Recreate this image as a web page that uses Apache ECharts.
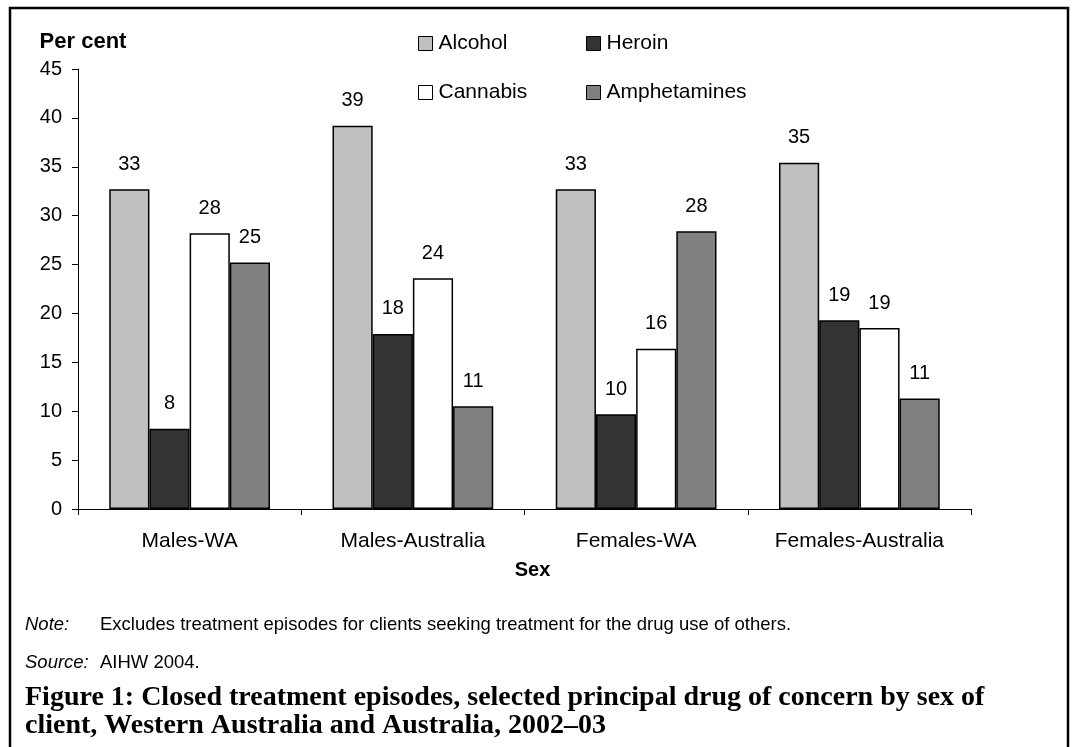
<!DOCTYPE html>
<html>
<head>
<meta charset="utf-8">
<title>Closed treatment episodes</title>
<script src="https://cdn.jsdelivr.net/npm/echarts@6/dist/echarts.min.js"></script>
<style>
  html, body { margin: 0; padding: 0; background: #fff; }
  #chart { width: 1077px; height: 747px; }
</style>
</head>
<body>
<div id="chart"></div>
<script>
// categories along the x axis
const categories = ['Males-WA', 'Males-Australia', 'Females-WA', 'Females-Australia']

// per cent of closed treatment episodes
const alcohol = [32.7, 39.2, 32.7, 35.4]
const heroin = [8.2, 17.9, 9.7, 19.3]
const cannabis = [28.2, 23.6, 16.4, 18.5]
const amphetamines = [25.2, 10.5, 28.4, 11.3]

const drugNames = ['Alcohol', 'Heroin', 'Cannabis', 'Amphetamines']
const yTicks = [0, 5, 10, 15, 20, 25, 30, 35, 40, 45]

const noteText = 'Excludes treatment episodes for clients seeking treatment for the drug use of others.'
const sourceText = 'AIHW 2004.'
const captionLines = [
  'Figure 1: Closed treatment episodes, selected principal drug of concern by sex of',
  'client, Western Australia and Australia, 2002\u201303'
]

const font = 'Liberation Sans, Arial, sans-serif'
const serif = 'Liberation Serif, Times New Roman, serif'

const colors = ['#c0c0c0', '#333333', '#ffffff', '#808080']
const values = [alcohol, heroin, cannabis, amphetamines]

// legend laid out as 2 x 2, one legend per entry
const legendPos = [
  { left: 418, top: 33 },
  { left: 586, top: 33 },
  { left: 418, top: 82 },
  { left: 586, top: 82 }
]

const chart = echarts.init(document.getElementById('chart'), null, { renderer: 'canvas' })

const series = drugNames.map(function (name, i) {
  return {
    name: name,
    type: 'bar',
    data: values[i],
    barGap: '0%',
    barCategoryGap: '28%',
    itemStyle: { color: colors[i], borderColor: '#000', borderWidth: 1.5 },
    label: {
      show: true,
      position: 'top',
      distance: 15,
      color: '#000',
      fontFamily: font,
      fontSize: 20,
      formatter: function (p) { return Math.round(p.value) }
    },
    emphasis: { disabled: true }
  }
})

const legends = drugNames.map(function (name, i) {
  return {
    data: [name],
    left: legendPos[i].left,
    top: legendPos[i].top,
    icon: 'rect',
    itemWidth: 14,
    itemHeight: 14,
    itemGap: 0,
    padding: 0,
    selectedMode: false,
    itemStyle: { borderColor: '#000', borderWidth: 1 },
    textStyle: { fontFamily: font, fontSize: 21, color: '#000', padding: [0, 0, 0, 1] }
  }
})

const option = {
  backgroundColor: '#fff',
  animation: false,
  legend: legends,
  grid: { left: 78, right: 106, top: 69, bottom: 238, containLabel: false },
  xAxis: {
    type: 'category',
    data: categories,
    axisLine: { lineStyle: { color: '#000', width: 1 } },
    axisTick: { show: true, length: 6, lineStyle: { color: '#000' } },
    axisLabel: { color: '#000', fontFamily: font, fontSize: 21, margin: 22 },
    name: 'Sex',
    nameLocation: 'middle',
    nameGap: 51,
    nameTextStyle: { color: '#000', fontFamily: font, fontSize: 20, fontWeight: 'bold', padding: [0, 0, 0, 16] }
  },
  yAxis: {
    type: 'value',
    min: 0,
    max: 45,
    interval: 5,
    splitLine: { show: false },
    axisLine: { show: true, lineStyle: { color: '#000', width: 1 } },
    axisTick: { show: true, length: 6, lineStyle: { color: '#000' } },
    axisLabel: {
      color: '#000', fontFamily: font, fontSize: 20, margin: 16,
      formatter: function (v) { return yTicks.indexOf(v) >= 0 ? String(v) : '' }
    },
    name: 'Per cent',
    nameLocation: 'end',
    nameGap: 16,
    nameTextStyle: { color: '#000', fontFamily: font, fontSize: 22, fontWeight: 'bold', align: 'center', padding: [0, 0, 0, 10] }
  },
  graphic: [
    {
      type: 'rect',
      shape: { x: 10, y: 8, width: 1058, height: 780 },
      style: { fill: 'none', stroke: '#000', lineWidth: 2.5 },
      silent: true
    },
    {
      type: 'text', left: 25, top: 615,
      style: { text: 'Note:', font: 'italic 18.5px ' + font, fill: '#000' }
    },
    {
      type: 'text', left: 100, top: 615,
      style: { text: noteText, font: '18.5px ' + font, fill: '#000' }
    },
    {
      type: 'text', left: 25, top: 653,
      style: { text: 'Source:', font: 'italic 18.5px ' + font, fill: '#000' }
    },
    {
      type: 'text', left: 100, top: 653,
      style: { text: sourceText, font: '18.5px ' + font, fill: '#000' }
    },
    {
      type: 'text', left: 25, top: 684,
      style: { text: captionLines[0], font: 'bold 28px ' + serif, fill: '#000' }
    },
    {
      type: 'text', left: 25, top: 712,
      style: { text: captionLines[1], font: 'bold 28px ' + serif, fill: '#000' }
    }
  ],
  series: series
}

chart.setOption(option)
</script>
</body>
</html>
